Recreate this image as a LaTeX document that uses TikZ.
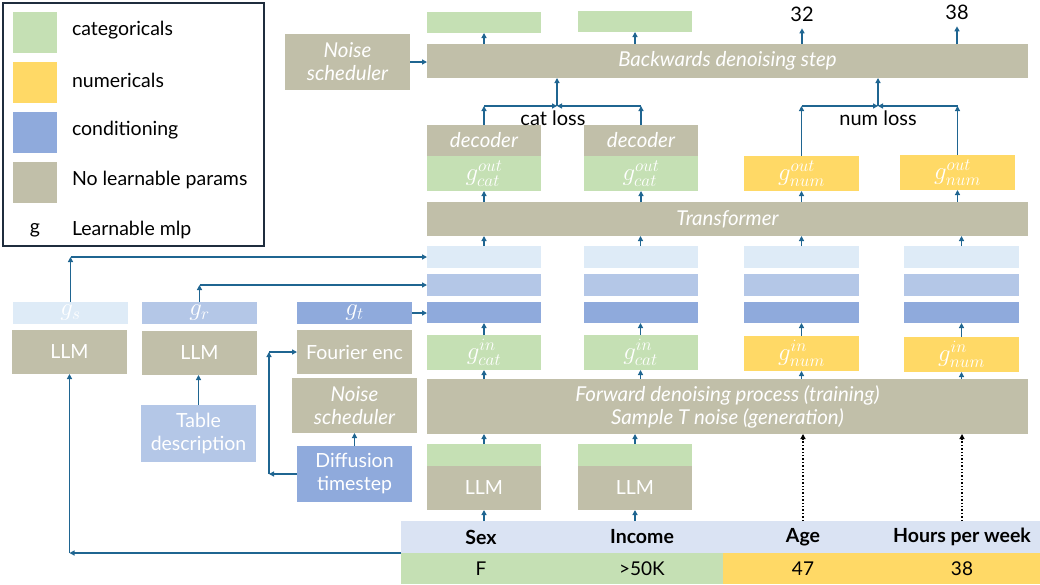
\documentclass[tikz,border=0pt]{standalone}
\usepackage{fontspec}
\setmainfont{Lato}
\usetikzlibrary{arrows.meta}
\definecolor{catgreen}{HTML}{C5E0B4}
\definecolor{numyellow}{HTML}{FFD966}
\definecolor{condblue}{HTML}{8FAADC}
\definecolor{midblue}{HTML}{B4C7E7}
\definecolor{paleblue}{HTML}{DEEBF7}
\definecolor{tan}{HTML}{C1BFA9}
\definecolor{hdrblue}{HTML}{DAE3F3}
\definecolor{arrowblue}{HTML}{1F6591}
\definecolor{legframe}{HTML}{1F2D3D}

\begin{document}
\begin{tikzpicture}[x=1pt, y=-1pt, >={Triangle[length=5pt,width=5pt]},
  every node/.style={inner sep=0pt, outer sep=0pt},
  box/.style={rectangle, align=center, text=white, minimum width=114pt},
  italic/.style={font=\itshape\fontsize{20.5}{23}\selectfont},
  plain/.style={font=\fontsize{19.5}{23}\selectfont},
  mathlab/.style={font=\fontsize{24}{24}\selectfont},
  legtext/.style={anchor=west, text=black, font=\fontsize{19.5}{22}\selectfont},
  numlab/.style={text=black, outer sep=7pt, font=\fontsize{20}{22}\selectfont},
  cell/.style={minimum width=161pt, minimum height=32pt, text=black},
  arr/.style={->, draw=arrowblue, line width=1.5pt},
  dots/.style={->, draw=black, dotted, line width=1.4pt}]

\useasboundingbox (0,0) rectangle (1040,584);

% Legend
\node[draw=legframe, line width=1.3pt, minimum width=261pt, minimum height=243pt] (legend) at (133.5,124.5) {};
\node[fill=catgreen, minimum width=44pt, minimum height=41pt] (swcat) at (35,32.5) {};
\node[fill=numyellow, minimum width=44pt, minimum height=41pt] (swnum) at (35,82.5) {};
\node[fill=condblue, minimum width=44pt, minimum height=41pt] (swcond) at (35,132.5) {};
\node[fill=tan, minimum width=44pt, minimum height=41pt] (swtan) at (35,182.5) {};
\node[legtext] (lcat) at (72,30) {categoricals};
\node[legtext] (lnum) at (72,80) {numericals};
\node[legtext] (lcond) at (72,130) {conditioning};
\node[legtext] (ltan) at (72,180) {No learnable params};
\node[legtext, anchor=center] (lg) at (35,230) {g};
\node[legtext] (lmlp) at (72,230) {Learnable mlp};

% Backwards step and outputs
\node[box, fill=tan, italic, minimum width=125pt, minimum height=56pt] (noisetop) at (347.5,62) {Noise\\scheduler};
\node[box, fill=tan, italic, minimum width=601pt, minimum height=34pt] (back) at (727.5,61) {Backwards denoising step};
\node[box, fill=catgreen, minimum height=21pt] (out1) at (484,22.5) {};
\node[box, fill=catgreen, minimum height=21pt] (out2) at (635,21.5) {};
\node[numlab] (o32) at (802,14) {32};
\node[numlab] (o38) at (957,12) {38};

\draw[arr] (noisetop.east) -- (noisetop.east -| back.west);
\draw[arr] (out1.south |- back.north) -- (out1.south);
\draw[arr] (out2.south |- back.north) -- (out2.south);
\draw[arr] (o32.south |- back.north) -- (o32.south);
\draw[arr] (o38.south |- back.north) -- (o38.south);

% Decoders and output heads
\node[box, fill=tan, italic, minimum height=31pt] (dec1) at (484,140.5) {decoder};
\node[box, fill=tan, italic, minimum height=31pt] (dec2) at (641,140.5) {decoder};
\node[box, fill=catgreen, mathlab, minimum height=35pt] (gout1) at (484,173.5) {$g^{out}_{cat}$};
\node[box, fill=catgreen, mathlab, minimum height=35pt] (gout2) at (641,173.5) {$g^{out}_{cat}$};
\node[box, fill=numyellow, mathlab, minimum width=115pt, minimum height=35pt] (gout3) at (801.5,173.5) {$g^{out}_{num}$};
\node[box, fill=numyellow, mathlab, minimum width=115pt, minimum height=35pt] (gout4) at (957.5,172.5) {$g^{out}_{num}$};

% Losses
\coordinate (catj) at (557,106);
\coordinate (numj) at (878,106);
\node[numlab, outer sep=0pt] (catloss) at (553,118) {cat loss};
\node[numlab, outer sep=0pt] (numloss) at (878,118) {num loss};
\draw[arr] (dec1.north) -- (dec1.north |- catj);
\draw[arr] (dec2.north) -- (dec2.north |- catj);
\draw[arr] (dec1.north |- catj) -- (catj);
\draw[arr] (dec2.north |- catj) -- (catj);
\draw[arr] (catj) -- (catj |- back.south);
\draw[arr] (gout3.north) -- (gout3.north |- numj);
\draw[arr] (gout4.north) -- (gout4.north |- numj);
\draw[arr] (gout3.north |- numj) -- (numj);
\draw[arr] (gout4.north |- numj) -- (numj);
\draw[arr] (numj) -- (numj |- back.south);

% Transformer
\node[box, fill=tan, italic, minimum width=601pt, minimum height=34pt] (trans) at (727.5,219) {Transformer};
\draw[arr] (gout1.south |- trans.north) -- (gout1.south);
\draw[arr] (gout2.south |- trans.north) -- (gout2.south);
\draw[arr] (gout3.south |- trans.north) -- (gout3.south);
\draw[arr] (gout4.south |- trans.north) -- (gout4.south);

% Conditioning rows
\node[box, fill=paleblue, minimum height=22pt] (s1) at (484,257) {};
\node[box, fill=paleblue, minimum height=22pt] (s2) at (640.5,257) {};
\node[box, fill=paleblue, minimum width=115pt, minimum height=22pt] (s3) at (801.5,257) {};
\node[box, fill=paleblue, minimum width=115pt, minimum height=22pt] (s4) at (961.5,257) {};
\node[box, fill=midblue, minimum height=22pt] (r1) at (484,285) {};
\node[box, fill=midblue, minimum height=22pt] (r2) at (640.5,285) {};
\node[box, fill=midblue, minimum width=115pt, minimum height=22pt] (r3) at (801.5,285) {};
\node[box, fill=midblue, minimum width=115pt, minimum height=22pt] (r4) at (961.5,285) {};
\node[box, fill=condblue, minimum height=21pt] (t1) at (484,312.5) {};
\node[box, fill=condblue, minimum height=21pt] (t2) at (640.5,312.5) {};
\node[box, fill=condblue, minimum width=115pt, minimum height=21pt] (t3) at (801.5,312.5) {};
\node[box, fill=condblue, minimum width=115pt, minimum height=21pt] (t4) at (961.5,312.5) {};
\draw[arr] (s1.north) -- (s1.north |- trans.south);
\draw[arr] (s2.north) -- (s2.north |- trans.south);
\draw[arr] (s3.north) -- (s3.north |- trans.south);
\draw[arr] (s4.north) -- (s4.north |- trans.south);

% Input heads
\node[box, fill=catgreen, mathlab, minimum height=35pt] (gin1) at (484,352.5) {$g^{in}_{cat}$};
\node[box, fill=catgreen, mathlab, minimum height=35pt] (gin2) at (640.5,352.5) {$g^{in}_{cat}$};
\node[box, fill=numyellow, mathlab, minimum width=115pt, minimum height=35pt] (gin3) at (801.5,353.5) {$g^{in}_{num}$};
\node[box, fill=numyellow, mathlab, minimum width=115pt, minimum height=35pt] (gin4) at (961.5,354.5) {$g^{in}_{num}$};
\draw[arr] (gin1.north) -- (t1.south);
\draw[arr] (gin2.north) -- (t2.south);
\draw[arr] (gin3.north) -- (t3.south);
\draw[arr] (gin4.north) -- (t4.south);

% Forward process
\node[box, fill=tan, italic, minimum width=601pt, minimum height=55pt] (fwd) at (727.5,406.5) {Forward denoising process (training)\\Sample T noise (generation)};
\draw[arr] (gin1.south |- fwd.north) -- (gin1.south);
\draw[arr] (gin2.south |- fwd.north) -- (gin2.south);
\draw[arr] (gin3.south |- fwd.north) -- (gin3.south);
\draw[arr] (gin4.south |- fwd.north) -- (gin4.south);

% Categorical embeddings
\node[box, fill=catgreen, minimum height=22pt] (emb1) at (484,455) {};
\node[box, fill=catgreen, minimum height=22pt] (emb2) at (635,455) {};
\node[box, fill=tan, plain, minimum height=44pt] (llm1) at (484,488) {LLM};
\node[box, fill=tan, plain, minimum height=44pt] (llm2) at (635,488) {LLM};
\draw[arr] (emb1.north) -- (emb1.north |- fwd.south);
\draw[arr] (emb2.north) -- (emb2.north |- fwd.south);

% Table
\node[cell, fill=hdrblue, font=\bfseries\fontsize{19.5}{22}\selectfont] (hsex) at (481,537) {Sex};
\node[cell, fill=hdrblue, font=\bfseries\fontsize{19.5}{22}\selectfont] (hinc) at (642,537) {Income};
\node[cell, fill=hdrblue, font=\bfseries\fontsize{19.5}{22}\selectfont] (hage) at (803,537) {Age};
\node[cell, fill=hdrblue, font=\bfseries\fontsize{19.5}{22}\selectfont] (hhrs) at (962,537) {Hours per week};
\node[cell, fill=catgreen, minimum height=31pt, font=\fontsize{19}{22}\selectfont] (vsex) at (481,568.5) {F};
\node[cell, fill=catgreen, minimum height=31pt, font=\fontsize{19}{22}\selectfont] (vinc) at (642,568.5) {>50K};
\node[cell, fill=numyellow, minimum height=31pt, font=\fontsize{19}{22}\selectfont] (vage) at (803,568.5) {47};
\node[cell, fill=numyellow, minimum height=31pt, font=\fontsize{19}{22}\selectfont] (vhrs) at (962,568.5) {38};
\draw[arr] (llm1.south |- hsex.north) -- (llm1.south);
\draw[arr] (llm2.south |- hinc.north) -- (llm2.south);
\draw[dots] (hage.north) -- (hage.north |- fwd.south);
\draw[dots] (hhrs.north) -- (hhrs.north |- fwd.south);

% Schema conditioning
\node[box, fill=paleblue, mathlab, minimum width=115pt, minimum height=22pt] (gs) at (70.5,313) {$g_s$};
\node[box, fill=tan, plain, minimum width=115pt, minimum height=44pt] (llms) at (69.5,352) {LLM};
\draw[arr] (gs.north) -- (gs.north |- s1.west);
\draw[arr] (gs.north |- s1.west) -- (s1.west);
\draw[arr] (hsex.south west) -- (hsex.south west -| llms.south);
\draw[arr] (hsex.south west -| llms.south) -- (llms.south);

% Table description conditioning
\node[box, fill=midblue, mathlab, minimum width=115pt, minimum height=22pt] (gr) at (199.5,313) {$g_r$};
\node[box, fill=tan, plain, minimum width=115pt, minimum height=44pt] (llmr) at (199.5,353) {LLM};
\node[box, fill=midblue, plain, minimum width=115pt, minimum height=57pt] (tdesc) at (198.5,433.5) {Table\\description};
\draw[arr] (tdesc.north) -- (tdesc.north |- llmr.south);
\draw[arr] (gr.north) -- (gr.north |- r1.west);
\draw[arr] (gr.north |- r1.west) -- (r1.west);

% Timestep conditioning
\node[box, fill=condblue, mathlab, minimum width=115pt, minimum height=22pt] (gt) at (354.5,313) {$g_t$};
\node[box, fill=tan, plain, minimum width=115pt, minimum height=44pt] (four) at (354.5,352) {Fourier enc};
\node[box, fill=tan, italic, minimum width=125pt, minimum height=55pt] (noise2) at (354.5,405.5) {Noise\\scheduler};
\node[box, fill=condblue, plain, minimum width=115pt, minimum height=56pt] (diff) at (354.5,474) {Diffusion\\timestep};
\coordinate (tloop) at (269,474);
\draw[arr] (gt.east) -- (gt.east -| t1.west);
\draw[arr] (diff.north) -- (noise2.south);
\draw[arr] (diff.west) -- (tloop);
\draw[arr] (tloop) -- (tloop |- four.west);
\draw[arr] (tloop |- four.west) -- (four.west);

\end{tikzpicture}
\end{document}
